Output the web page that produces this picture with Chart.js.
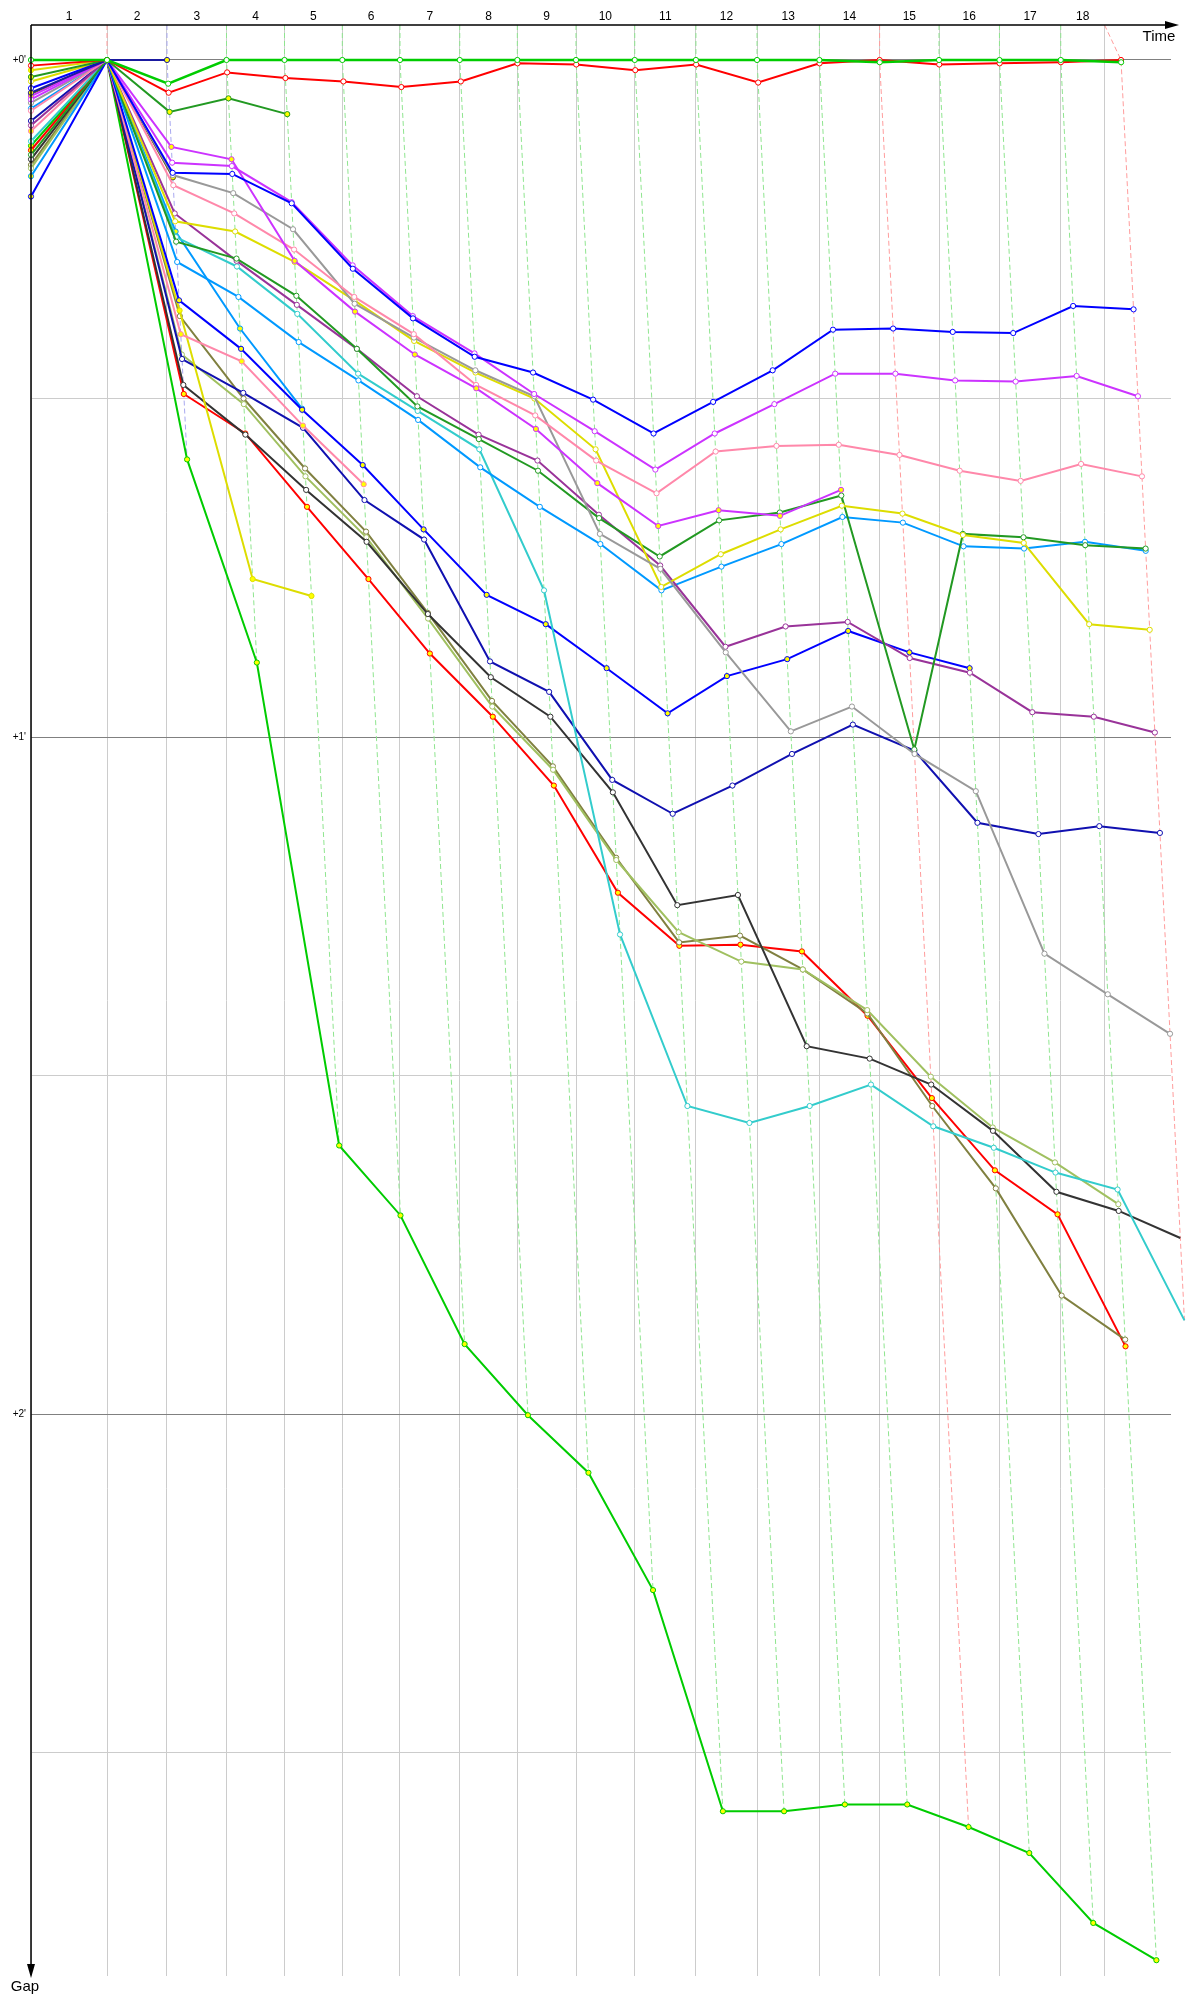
<!DOCTYPE html>
<html>
<head>
<meta charset="utf-8">
<script src="https://cdn.jsdelivr.net/npm/chart.js@4.4.1/dist/chart.umd.min.js"></script>
<style>
  body { margin: 0; background: #fff; }
  #wrap { width: 1200px; height: 2000px; }
</style>
</head>
<body>
<div id="wrap"><canvas id="chart-1" width="1200" height="2000"></canvas></div>
<script>
// Laps (labels on top) and leader times in seconds, index 0 = start
const laps = ['1','2','3','4','5','6','7','8','9','10','11','12','13','14','15','16','17','18'];
const leaderTimes = [0, 133.8, 239.4, 344.2, 446.3, 548.1, 649.6, 754.8, 856.2, 959.5, 1062.9, 1170.6, 1278.2, 1388.0, 1494.0, 1598.6, 1705.0, 1812.9, 1919.0];
const gridTimes = [0, 133.8, 239.4, 344.2, 446.3, 548.1, 649.6, 754.8, 856.2, 959.5, 1062.9, 1170.6, 1278.2, 1388.0, 1494.0, 1598.6, 1705.0, 1812.9, 1890.0];
// who led each lap (laps 1..18)
const lapLeader = ['red','navy','lime','lime','lime','lime','lime','lime','lime','lime','lime','lime','lime','red','lime','lime','lime','red'];
const minuteLabels = ["+0'", "+1'", "+2'"];

// Gaps to the leader in seconds: index 0 = start, then end of lap 1, 2, ...
const gapLime      = [0, 0, 2.1, 0, 0, 0, 0, 0, 0, 0, 0, 0, 0, 0, 0.2, 0, 0, 0, 0.2];
const gapRedTop    = [0.5, 0, 2.9, 1.1, 1.6, 1.9, 2.4, 1.9, 0.3, 0.4, 0.9, 0.4, 2.0, 0.3, 0, 0.4, 0.3, 0.2, 0];
const gapForestS   = [1.5, 0, 4.6, 3.4, 4.8];
const gapNavyLead  = [2.9, 0, 0];
const gapBlue      = [2.5, 0, 10.0, 10.1, 12.7, 18.5, 22.9, 26.3, 27.7, 30.1, 33.1, 30.3, 27.5, 23.9, 23.8, 24.1, 24.2, 21.8, 22.1];
const gapMagenta   = [3.5, 0, 9.1, 9.4, 12.6, 18.2, 22.7, 26.0, 29.6, 32.9, 36.3, 33.1, 30.5, 27.8, 27.8, 28.4, 28.5, 28.0, 29.8];
const gapPink      = [4.5, 0, 11.1, 13.6, 16.8, 21.0, 24.3, 28.8, 31.5, 35.5, 38.4, 34.7, 34.2, 34.1, 35.0, 36.4, 37.3, 35.8, 36.9];
const gapGrey      = [3.8, 0, 10.2, 11.8, 15.0, 21.6, 24.6, 27.5, 29.8, 42.0, 45.1, 52.5, 59.5, 57.3, 61.5, 64.8, 79.2, 82.8, 86.3];
const gapYellow    = [1.9, 0, 14.3, 15.2, 17.9, 21.3, 24.9, 27.7, 30.0, 34.5, 46.7, 43.8, 41.6, 39.5, 40.2, 42.1, 42.8, 50.0, 50.5];
const gapMagentaY  = [3.2, 0, 7.7, 8.8, 17.8, 22.3, 26.1, 29.1, 32.7, 37.5, 41.3, 39.9, 40.4, 38.1];
const gapForest    = [8.4, 0, 16.1, 17.6, 20.9, 25.6, 30.7, 33.6, 36.4, 40.6, 44.0, 40.8, 40.1, 38.6, 61.1, 42.0, 42.3, 43.0, 43.3];
const gapPurple    = [5.8, 0, 13.6, 17.8, 21.7, 25.6, 29.8, 33.2, 35.5, 40.3, 44.8, 52.0, 50.2, 49.8, 53.0, 54.3, 57.8, 58.2, 59.6];
const gapSky       = [4.3, 0, 17.9, 21.0, 25.0, 28.4, 31.9, 36.1, 39.6, 42.9, 47.0, 44.9, 42.9, 40.5, 41.0, 43.1, 43.3, 42.7, 43.5];
const gapTeal      = [7.2, 0, 15.7, 18.3, 22.5, 27.8, 31.1, 34.5, 47.0, 77.5, 92.7, 94.2, 92.7, 90.8, 94.5, 96.4, 98.6, 100.1, 111.7];
const gapBlueY     = [12.1, 0, 21.3, 25.6, 31.0, 35.9, 41.6, 47.4, 50.0, 53.9, 57.9, 54.6, 53.1, 50.6, 52.5, 53.9];
const gapSkyY      = [10.3, 0, 15.2, 23.8, 30.9];
const gapPinkY     = [6.3, 0, 24.3, 26.7, 32.4, 37.6];
const gapYellowY   = [0.9, 0, 22.2, 46.0, 47.5];
const gapNavy      = [5.4, 0, 26.5, 29.5, 32.6, 39.0, 42.5, 53.3, 56.0, 63.8, 66.8, 64.3, 61.5, 58.9, 61.2, 67.6, 68.6, 67.9, 68.5];
const gapDarkGrey  = [8.8, 0, 28.8, 33.2, 38.1, 42.7, 49.1, 54.7, 58.2, 64.9, 74.9, 74.0, 87.4, 88.5, 90.8, 94.9, 100.3, 102.0, 104.4];
const gapOlive     = [9.3, 0, 22.7, 30.0, 36.2, 41.8, 49.0, 56.8, 62.6, 70.7, 78.2, 77.6, 80.6, 84.5, 92.7, 100.0, 109.5, 113.4];
const gapLightOl   = [9.6, 0, 26.1, 30.5, 36.9, 42.3, 49.5, 57.3, 62.9, 70.9, 77.3, 79.9, 80.6, 84.2, 90.1, 94.6, 97.7, 101.4];
const gapRedLow    = [8.0, 0, 29.6, 33.1, 39.6, 46.0, 52.6, 58.2, 64.3, 73.8, 78.5, 78.4, 79.0, 84.7, 92.0, 98.4, 102.3, 114.0];
const gapLimeLow   = [7.6, 0, 35.4, 53.4, 96.2, 102.4, 113.8, 120.1, 125.2, 135.6, 155.2, 155.2, 154.6, 154.6, 156.6, 158.9, 165.1, 168.4];
const gapOliveS    = [3.0, 0, 10.4];

// line colour + point fill for each driver (first one is drawn on top)
const drivers = [
  { gaps: gapLime,     color: '#00cc00', fill: '#ffffff', width: 2.5 },
  { gaps: gapRedTop,   color: '#ff0000', fill: '#ffffff' },
  { gaps: gapNavyLead, color: '#1a1aa0', fill: '#ffff00' },
  { gaps: gapForestS,  color: '#229922', fill: '#ffff00' },
  { gaps: gapBlue,     color: '#0000ff', fill: '#ffffff' },
  { gaps: gapMagenta,  color: '#cc33ff', fill: '#ffffff' },
  { gaps: gapMagentaY, color: '#cc33ff', fill: '#ffff00' },
  { gaps: gapPink,     color: '#ff88aa', fill: '#ffffff' },
  { gaps: gapGrey,     color: '#999999', fill: '#ffffff' },
  { gaps: gapYellow,   color: '#dddd00', fill: '#ffffff' },
  { gaps: gapForest,   color: '#229922', fill: '#ffffff' },
  { gaps: gapPurple,   color: '#993399', fill: '#ffffff' },
  { gaps: gapSky,      color: '#0099ff', fill: '#ffffff' },
  { gaps: gapTeal,     color: '#33cccc', fill: '#ffffff' },
  { gaps: gapBlueY,    color: '#0000ff', fill: '#ffff00' },
  { gaps: gapSkyY,     color: '#0099ff', fill: '#ffff00' },
  { gaps: gapPinkY,    color: '#ff88aa', fill: '#ffff00' },
  { gaps: gapYellowY,  color: '#dddd00', fill: '#ffff00' },
  { gaps: gapNavy,     color: '#1010b0', fill: '#ffffff' },
  { gaps: gapDarkGrey, color: '#333333', fill: '#ffffff' },
  { gaps: gapLightOl,  color: '#a0c060', fill: '#ffffff' },
  { gaps: gapOlive,    color: '#808040', fill: '#ffffff' },
  { gaps: gapRedLow,   color: '#ff0000', fill: '#ffff00' },
  { gaps: gapLimeLow,  color: '#00cc00', fill: '#ffff00' },
  { gaps: gapOliveS,   color: '#555522', fill: '#ffff00' }
];
const leaderDash = { red: '#ff9c9c', navy: '#a8a8f0', lime: '#8fe58f' };

const Y_TOP = -3.1, Y_BOTTOM = 169.8;

// a driver's point: x = leader time at that lap + gap
function toPoints(gaps) {
  return gaps.map((g, i) => ({ x: i === 0 ? 0 : leaderTimes[i] + g, y: g }));
}

const datasets = [];
drivers.forEach(d => {
  datasets.push({
    data: toPoints(d.gaps),
    showLine: true,
    borderColor: d.color,
    backgroundColor: d.color,
    borderWidth: d.width || 2,
    pointRadius: 2.6,
    pointBorderWidth: 1,
    pointBorderColor: d.color,
    pointBackgroundColor: d.fill,
    tension: 0,
    clip: false,
    order: 0
  });
});

// dashed line per lap, through every driver's point of that lap
for (let k = 1; k <= laps.length; k++) {
  let maxGap = 0;
  drivers.forEach(d => { if (d.gaps.length > k) maxGap = Math.max(maxGap, d.gaps[k]); });
  const pts = [{ x: gridTimes[k], y: Y_TOP }, { x: leaderTimes[k], y: 0 }];
  if (maxGap > 0) pts.push({ x: leaderTimes[k] + maxGap, y: maxGap });
  datasets.push({
    data: pts,
    showLine: true,
    borderColor: leaderDash[lapLeader[k - 1]],
    borderWidth: 1,
    borderDash: [5, 3],
    pointRadius: 0,
    clip: false,
    order: 5
  });
}

// axes with arrows, lap numbers, gap labels
const axisDecor = {
  id: 'axisDecor',
  afterDraw(chart) {
    const { ctx, chartArea: a, scales: { x, y } } = chart;
    ctx.save();
    ctx.strokeStyle = '#000';
    ctx.fillStyle = '#000';
    ctx.lineWidth = 1.5;
    ctx.beginPath();
    ctx.moveTo(a.left, a.top);
    ctx.lineTo(1168, a.top);
    ctx.moveTo(a.left, a.top);
    ctx.lineTo(a.left, 1966);
    ctx.stroke();
    ctx.beginPath();
    ctx.moveTo(1179, a.top);
    ctx.lineTo(1165, a.top - 4);
    ctx.lineTo(1165, a.top + 4);
    ctx.closePath();
    ctx.fill();
    ctx.beginPath();
    ctx.moveTo(a.left, 1978);
    ctx.lineTo(a.left - 4, 1964);
    ctx.lineTo(a.left + 4, 1964);
    ctx.closePath();
    ctx.fill();

    ctx.font = '12px "Liberation Sans", Arial, sans-serif';
    ctx.textAlign = 'center';
    ctx.textBaseline = 'middle';
    for (let k = 1; k <= laps.length; k++) {
      const xm = (x.getPixelForValue(gridTimes[k - 1]) + x.getPixelForValue(gridTimes[k])) / 2;
      ctx.fillText(laps[k - 1], xm, 17);
    }
    ctx.font = '10px "Liberation Sans", Arial, sans-serif';
    ctx.textAlign = 'right';
    minuteLabels.forEach((t, m) => ctx.fillText(t, 26, y.getPixelForValue(m * 60)));

    ctx.font = '15px "Liberation Sans", Arial, sans-serif';
    ctx.textAlign = 'center';
    ctx.fillText('Time', 1159, 37);
    ctx.fillText('Gap', 25, 1987);
    ctx.restore();
  }
};

const ctx = document.getElementById('chart-1');
new Chart(ctx, {
  type: 'scatter',
  data: { datasets: datasets },
  options: {
    responsive: false,
    animation: false,
    layout: { padding: { left: 0, top: 0, right: 29, bottom: 24 } },
    plugins: { legend: { display: false }, tooltip: { enabled: false } },
    scales: {
      x: {
        type: 'linear',
        position: 'top',
        min: 0,
        max: 2007,
        afterBuildTicks: s => { s.ticks = gridTimes.map(v => ({ value: v })); },
        afterFit: s => { s.height = 25; },
        ticks: { display: false },
        border: { display: false },
        grid: { color: '#cccccc', lineWidth: 1, drawTicks: false }
      },
      y: {
        type: 'linear',
        reverse: true,
        min: Y_TOP,
        max: Y_BOTTOM,
        afterBuildTicks: s => { s.ticks = [0, 30, 60, 90, 120, 150].map(v => ({ value: v })); },
        afterFit: s => { s.width = 31; },
        ticks: { display: false },
        border: { display: false },
        grid: {
          color: c => (c.tick && c.tick.value % 60 === 0) ? '#808080' : '#cccccc',
          lineWidth: 1,
          drawTicks: false
        }
      }
    }
  },
  plugins: [axisDecor]
});
</script>
</body>
</html>
